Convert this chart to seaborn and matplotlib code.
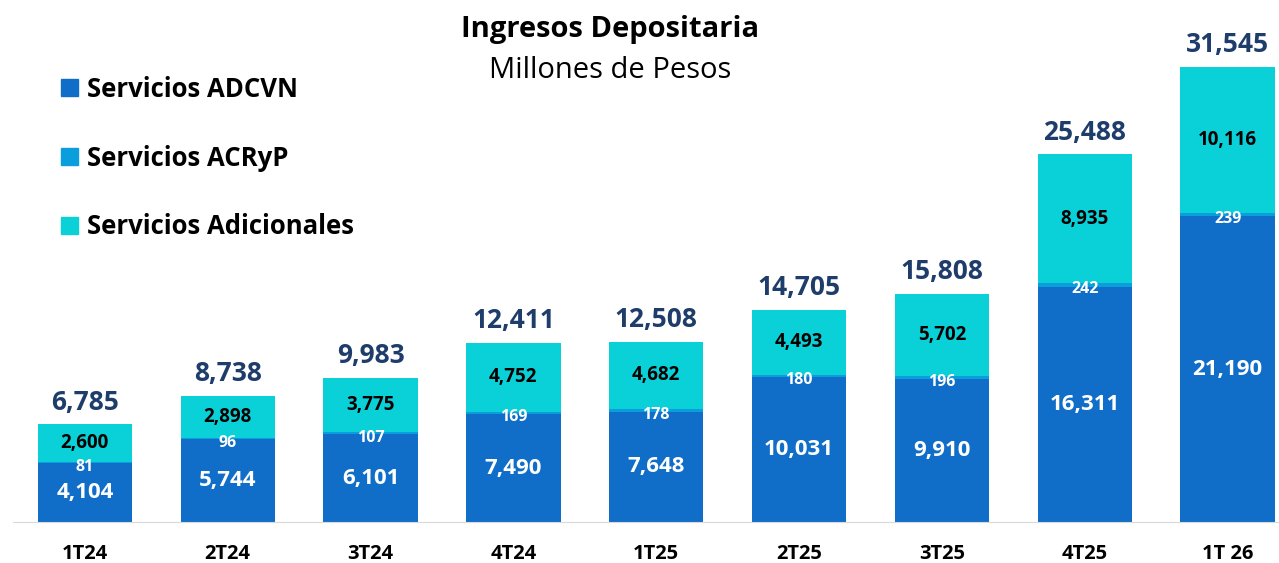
import matplotlib
matplotlib.use("Agg")
import matplotlib.pyplot as plt
import matplotlib.patches as mpatches
import seaborn as sns
import pandas as pd

trimestres = ['1T24', '2T24', '3T24', '4T24', '1T25', '2T25', '3T25', '4T25', '1T 26']
adcvn = [4104, 5744, 6101, 7490, 7648, 10031, 9910, 16311, 21190]
acryp = [81, 96, 107, 169, 178, 180, 196, 242, 239]
adicionales = [2600, 2898, 3775, 4752, 4682, 4493, 5702, 8935, 10116]
totales = [6785, 8738, 9983, 12411, 12508, 14705, 15808, 25488, 31545]

c_adcvn = '#116ec8'
c_acryp = '#0a9edc'
c_adic = '#0ad1d8'
c_total = '#1f3d6b'

sns.set_style('white')
plt.rcParams['font.family'] = ['Open Sans', 'DejaVu Sans']
plt.rcParams['text.color'] = 'black'
plt.rcParams['xtick.color'] = 'black'

df = pd.DataFrame({'trim': trimestres, 'adcvn': adcvn, 'acryp': acryp, 'adic': adicionales})
df['nivel2'] = df['adcvn'] + df['acryp']
df['nivel3'] = df['nivel2'] + df['adic']

fig = plt.figure(figsize=(12.79, 5.63), dpi=100)
ax = fig.add_axes([0.0105, 0.0728, 0.9895, 0.9272])

# barras apiladas: se dibuja del total hacia abajo
for col, color in [('nivel3', c_adic), ('nivel2', c_acryp), ('adcvn', c_adcvn)]:
    sns.barplot(data=df, x='trim', y=col, color=color, width=0.66, ax=ax,
                saturation=1, linewidth=0)

ax.set_xlim(-0.5, 8.36)
ax.set_ylim(0, 36200)

for i in range(len(trimestres)):
    a, r, d = adcvn[i], acryp[i], adicionales[i]
    ax.text(i, a / 2, f'{a:,}', ha='center', va='center', color='white',
            fontsize=16, fontweight='bold')
    ax.text(i, a + r / 2 - 300, f'{r:,}', ha='center', va='center', color='white',
            fontsize=11.5, fontweight='bold')
    ax.text(i, a + r + d / 2, f'{d:,}', ha='center', va='center', color='black',
            fontsize=13.5, fontweight='bold')
    ax.text(i, totales[i] + 600, f'{totales[i]:,}', ha='center', va='bottom',
            color=c_total, fontsize=19, fontweight='bold')

sns.despine(ax=ax, left=True)
ax.spines['bottom'].set_color('#d9d9d9')
ax.set_xlabel('')
ax.set_ylabel('')
ax.set_yticks([])
ax.tick_params(axis='x', length=0, pad=16, labelsize=14.5)
for t in ax.get_xticklabels():
    t.set_fontweight('bold')

handles = [mpatches.Patch(color=c_adcvn, label='Servicios ADCVN'),
           mpatches.Patch(color=c_acryp, label='Servicios ACRyP'),
           mpatches.Patch(color=c_adic, label='Servicios Adicionales')]
ax.legend(handles=handles, loc='upper left', bbox_to_anchor=(0.038, 0.888),
          bbox_transform=fig.transFigure, frameon=False,
          prop={'size': 18.5, 'weight': 'bold'}, handlelength=0.65, handleheight=0.65,
          handletextpad=0.35, labelspacing=1.62, borderpad=0)

fig.text(0.477, 0.947, 'Ingresos Depositaria', ha='center', va='center',
         fontsize=21, fontweight='bold')
fig.text(0.477, 0.875, 'Millones de Pesos', ha='center', va='center', fontsize=21)

fig.savefig('out.png', dpi=100)
